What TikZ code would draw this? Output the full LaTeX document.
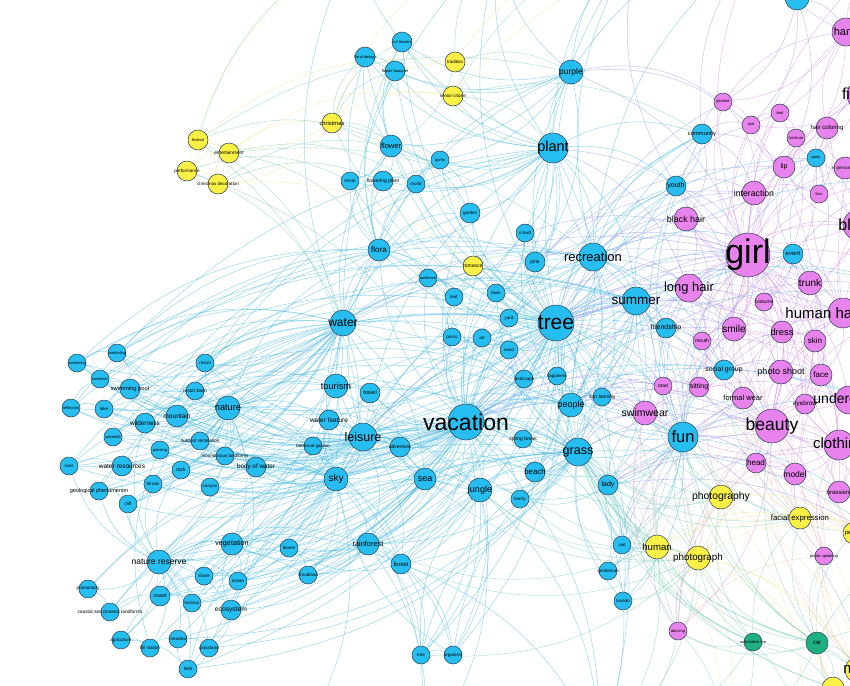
\documentclass[tikz,border=0pt]{standalone}
\usepackage{fontspec}
\setmainfont{Liberation Sans}
\pgfdeclarelayer{bgl}
\pgfdeclarelayer{edges}
\pgfdeclarelayer{labels}
\pgfsetlayers{bgl,edges,main,labels}
\definecolor{nb}{RGB}{38,190,240}
\definecolor{np}{RGB}{232,130,236}
\definecolor{ny}{RGB}{250,240,70}
\definecolor{ng}{RGB}{30,175,130}
\definecolor{cb}{RGB}{70,185,225}
\definecolor{cl}{RGB}{150,150,235}
\definecolor{cp}{RGB}{215,140,230}
\definecolor{cy}{RGB}{238,232,140}
\definecolor{cg}{RGB}{120,205,185}
\definecolor{co}{RGB}{240,195,190}
\definecolor{nstroke}{RGB}{40,60,80}
\tikzset{
 nd/.style={circle, draw=nstroke, line width=.5pt, inner sep=0pt},
 B/.style={nd, fill=nb}, P/.style={nd, fill=np}, Y/.style={nd, fill=ny}, G/.style={nd, fill=ng},
 lab/.style={inner sep=0pt, text=black},
 e/.style={line width=.5pt, opacity=.55, bend left=22},
 eb/.style={e, draw=cb}, el/.style={e, draw=cl}, ep/.style={e, draw=cp},
 ey/.style={e, draw=cy}, eg/.style={e, draw=cg}, eo/.style={e, draw=co}
}
\newcommand\N[7]{\node[#5, minimum size=2*#4pt] (#1) at (#2,#3) {};
 \begin{pgfonlayer}{labels}\node[lab, font=\fontsize{#6}{#6}\selectfont] (#1-t) at (#2,#3) {#7};\end{pgfonlayer}}
\newcommand\NL[9]{\node[#5, minimum size=2*#4pt] (#1) at (#2,#3) {};
 \begin{pgfonlayer}{labels}\node[lab, font=\fontsize{#6}{#6}\selectfont] (#1-t) at (#8,#9) {#7};\end{pgfonlayer}}
\newcommand\EE[3]{\foreach \tg in {#3}{\draw[#1] (#2) to (\tg);}}
\begin{document}
\begin{tikzpicture}[x=1pt,y=-1pt]
\begin{pgfonlayer}{bgl}
\fill[white] (0,0) rectangle (850,685);
\end{pgfonlayer}
\useasboundingbox (0,0) rectangle (850,685);
% off-canvas ends
\coordinate (oT1) at (640,-60); \coordinate (oT2) at (500,-60); \coordinate (oT3) at (760,-60);
\coordinate (oT4) at (350,-50); \coordinate (oT5) at (880,-40);
\coordinate (oR1) at (910,60); \coordinate (oR2) at (930,180); \coordinate (oR3) at (940,300);
\coordinate (oR4) at (930,420); \coordinate (oR5) at (910,560); \coordinate (oR6) at (880,720);
\coordinate (oB1) at (600,750); \coordinate (oB2) at (420,760); \coordinate (oB3) at (720,740);
\coordinate (oB4) at (300,740); \coordinate (oB5) at (800,760); \coordinate (oR7) at (920,640);
% blue nodes
\N{cutflowers}{402}{42}{10}{B}{4}{cut flowers}
\N{floral}{365}{57}{10}{B}{4}{floral design}
\N{bouquet}{395}{71}{10}{B}{4}{flower bouquet}
\N{flower}{391}{146}{11}{B}{7.5}{flower}
\N{shrub}{350}{181}{9}{B}{4.5}{shrub}
\N{floweringplant}{383}{181}{10}{B}{5}{flowering plant}
\N{murid}{416}{184}{9}{B}{4.5}{murid}
\N{garlic}{440}{160}{9}{B}{4}{garlic}
\N{garden}{470}{213}{10}{B}{4.5}{garden}
\N{purple}{571}{72}{12}{B}{8.5}{purple}
\N{plant}{553}{148}{15}{B}{14.5}{plant}
\N{crowd}{525}{233}{9}{B}{4.5}{crowd}
\N{pink}{535}{262}{10}{B}{5}{pink}
\N{recreation}{593}{257}{14}{B}{13}{recreation}
\N{flora}{379}{250}{11}{B}{8}{flora}
\N{audience}{428}{278}{9}{B}{4}{audience}
\N{leaf}{454}{297}{9}{B}{4.5}{leaf}
\N{lawn}{496}{293}{9}{B}{4.5}{lawn}
\N{yard}{509}{318}{9}{B}{4.5}{yard}
\N{tree}{556}{323}{18}{B}{21}{tree}
\N{picnic}{452}{337}{9}{B}{4.5}{picnic}
\N{art}{482}{338}{9}{B}{4.5}{art}
\N{sand}{509}{350}{9}{B}{4.5}{sand}
\N{summer}{636}{301}{14}{B}{13.5}{summer}
\N{landscape}{524}{379}{9}{B}{4.5}{landscape}
\N{happiness}{557}{376}{9}{B}{4.5}{happiness}
\N{people}{571}{405}{12}{B}{9}{people}
\N{suntanning}{602}{397}{9}{B}{5}{sun tanning}
\N{vacation}{466}{422}{18}{B}{23}{vacation}
\N{springbreak}{523}{439}{9}{B}{5}{spring break}
\N{grass}{578}{452}{14}{B}{12.5}{grass}
\N{water}{343}{323}{13}{B}{12}{water}
\N{tourism}{336}{386}{12}{B}{9.2}{tourism}
\N{travel}{370}{393}{10}{B}{5.5}{travel}
\N{waterfeature}{329}{420}{10}{B}{6.5}{water feature}
\N{leisure}{363}{437}{14}{B}{12.5}{leisure}
\N{botanical}{313}{446}{9}{B}{4.5}{botanical garden}
\N{adventure}{400}{447}{10}{B}{5}{adventure}
\N{nature}{228}{408}{12}{B}{9.2}{nature}
\N{sky}{336}{479}{12}{B}{10}{sky}
\N{sea}{425}{479}{11}{B}{9}{sea}
\N{jungle}{480}{490}{12}{B}{9}{jungle}
\N{beach}{535}{472}{10}{B}{7.8}{beach}
\N{family}{520}{499}{9}{B}{4.5}{family}
\N{lady}{608}{485}{10}{B}{7}{lady}
\N{swimming}{77}{363}{9}{B}{4}{swimming}
\N{snorkeling}{117}{353}{9}{B}{4}{snorkeling}
\N{swimmer}{100}{379}{9}{B}{4}{swimmer}
\N{swimmingpool}{130}{389}{10}{B}{5.8}{swimming pool}
\N{reflection}{71}{408}{9}{B}{4}{reflection}
\N{lake}{104}{409}{9}{B}{4.5}{lake}
\N{wilderness}{145}{423}{10}{B}{6.3}{wilderness}
\N{mountain}{177}{416}{11}{B}{6.6}{mountain}
\N{resort}{205}{363}{9}{B}{4.5}{resort}
\N{resorttown}{195}{391}{9}{B}{4.8}{resort town}
\N{waterfall}{113}{437}{9}{B}{4}{waterfall}
\N{painting}{160}{450}{9}{B}{4}{painting}
\N{outdoor}{200}{441}{9}{B}{4.8}{outdoor recreation}
\N{mountainous}{225}{456}{9}{B}{4.5}{mountainous landforms}
\N{bodywater}{256}{467}{10}{B}{6.3}{body of water}
\N{river}{69}{466}{9}{B}{4.5}{river}
\N{wresources}{122}{466}{10}{B}{6.5}{water resources}
\N{rock}{181}{470}{9}{B}{5}{rock}
\N{terrain}{153}{484}{9}{B}{4.5}{terrain}
\N{geological}{99}{491}{9}{B}{5.5}{geological phenomenon}
\N{cliff}{128}{504}{9}{B}{4.5}{cliff}
\N{canyon}{210}{487}{9}{B}{4.5}{canyon}
\N{naturereserve}{159}{562}{12}{B}{8.5}{nature reserve}
\N{vegetation}{232}{544}{11}{B}{7.2}{vegetation}
\N{biome}{289}{548}{9}{B}{4.5}{biome}
\N{shrubland}{308}{575}{9}{B}{4.5}{shrubland}
\N{rainforest}{368}{544}{11}{B}{7.4}{rainforest}
\N{forest}{401}{564}{10}{B}{6}{forest}
\N{shore}{204}{576}{9}{B}{4.5}{shore}
\N{ocean}{238}{581}{9}{B}{4.5}{ocean}
\N{coast}{160}{596}{10}{B}{5.5}{coast}
\N{horizon}{192}{603}{9}{B}{4.5}{horizon}
\N{promontory}{88}{589}{9}{B}{4.5}{promontory}
\N{coastal}{110}{612}{9}{B}{4.8}{coastal and oceanic landforms}
\N{ecosystem}{231}{610}{10}{B}{6.7}{ecosystem}
\N{agriculture}{121}{640}{9}{B}{4.5}{agriculture}
\N{hillstation}{150}{648}{9}{B}{4.5}{hill station}
\N{meadow}{178}{639}{9}{B}{4.5}{meadow}
\N{grassland}{209}{648}{9}{B}{4.5}{grassland}
\N{field}{188}{669}{9}{B}{4.5}{field}
\N{btree}{421}{655}{9}{B}{4.5}{tree}
\N{organism}{453}{655}{9}{B}{4.5}{organism}
\N{suit}{622}{545}{9}{B}{4.5}{suit}
\N{gentleman}{608}{571}{9}{B}{4.5}{gentleman}
\N{tuxedo}{623}{601}{9}{B}{4.5}{tuxedo}
\N{community}{702}{134}{10}{B}{5.8}{community}
\N{youth}{676}{186}{10}{B}{7}{youth}
\N{party}{816}{158}{9}{B}{4}{party}
\N{event}{793}{254}{10}{B}{6}{event}
\N{friendship}{666}{328}{10}{B}{7}{friendship}
\N{socialgroup}{724}{370}{10}{B}{6.9}{social group}
\N{fun}{683}{437}{15}{B}{16.5}{fun}
\N{topblue}{797}{-2}{12}{B}{4}{}
% pink nodes
\N{hand}{846}{32}{14}{P}{11}{hand}
\N{finger}{862}{95}{15}{P}{16}{finger}
\N{gesture}{723}{102}{9}{P}{4}{gesture}
\N{eye}{751}{125}{9}{P}{4}{eye}
\N{bed}{780}{113}{9}{P}{4}{bed}
\N{haircolor}{827}{128}{11}{P}{6}{hair coloring}
\N{furniture}{796}{138}{9}{P}{4}{furniture}
\N{lip}{784}{167}{11}{P}{7}{lip}
\N{tvp}{845}{168}{11}{P}{4.5}{tv personality}
\N{interaction}{754}{193}{12}{P}{8.7}{interaction}
\N{kiss}{819}{194}{9}{P}{4}{kiss}
\N{blackhair}{686}{219}{12}{P}{8.9}{black hair}
\N{blond}{858}{225}{15}{P}{16}{blond}
\N{girl}{748}{255}{22}{P}{34}{girl}
\N{longhair}{689}{288}{14}{P}{13}{long hair}
\N{trunk}{810}{283}{12}{P}{10}{trunk}
\NL{humanhair}{843}{313}{15}{P}{15}{human hair}{823}{313}
\N{costume}{764}{302}{9}{P}{5}{costume}
\N{smile}{734}{329}{12}{P}{10}{smile}
\N{dress}{782}{332}{11}{P}{9.4}{dress}
\N{mouth}{702}{341}{9}{P}{5}{mouth}
\N{skin}{815}{341}{11}{P}{8}{skin}
\N{photoshoot}{781}{372}{12}{P}{9}{photo shoot}
\N{face}{821}{375}{11}{P}{8}{face}
\N{road}{663}{386}{9}{P}{5}{road}
\N{sitting}{699}{387}{10}{P}{7}{sitting}
\N{formalwear}{743}{398}{11}{P}{7.5}{formal wear}
\N{eyebrow}{805}{404}{10}{P}{6.3}{eyebrow}
\NL{underg}{849}{400}{14}{P}{14}{undergarment}{857}{400}
\N{swimwear}{645}{413}{12}{P}{10.5}{swimwear}
\N{beauty}{772}{426}{17}{P}{17.5}{beauty}
\N{clothing}{839}{445}{15}{P}{15}{clothing}
\N{head}{756}{463}{10}{P}{8}{head}
\N{model}{795}{474}{11}{P}{8.5}{model}
\N{brassiere}{839}{492}{11}{P}{6}{brassiere}
\N{publicsp}{824}{556}{9}{P}{4}{public speaking}
\N{dancing}{678}{631}{9}{P}{4}{dancing}
% yellow nodes
\N{festival}{198}{140}{10}{Y}{4}{festival}
\N{entertain}{229}{153}{10}{Y}{4.8}{entertainment}
\N{performance}{187}{171}{10}{Y}{4.5}{performance}
\N{xmasdeco}{218}{184}{10}{Y}{4.5}{christmas decoration}
\N{xmas}{332}{123}{10}{Y}{5.8}{christmas}
\N{tradition}{455}{62}{10}{Y}{4.5}{tradition}
\N{senior}{453}{96}{10}{Y}{4.5}{senior citizen}
\N{romantic}{473}{266}{10}{Y}{5}{romance}
\N{photography}{721}{497}{12}{Y}{10.4}{photography}
\N{facial}{800}{518}{11}{Y}{7.8}{facial expression}
\N{human}{657}{547}{12}{Y}{9.6}{human}
\N{photograph}{698}{558}{12}{Y}{9.8}{photograph}
\N{person}{854}{533}{11}{Y}{6}{person}
\N{ybot}{833}{688}{11}{Y}{4}{}
\N{man}{858}{670}{13}{Y}{15}{man}
% green nodes
\N{autotire}{753}{642}{9}{G}{4}{automotive tire}
\N{car}{817}{643}{11}{G}{6}{car}
\begin{pgfonlayer}{edges}
\EE{eb}{vacation}{tree,leisure,water,tourism,travel,sea,beach,jungle,sky,grass,recreation,summer,people,nature,mountain,resort,resorttown,swimmingpool,lake,adventure,springbreak,family,sand,picnic,landscape,happiness,plant,flora,rainforest,forest,outdoor,wilderness,vegetation,horizon,coast,ocean,shore,river,waterfall,suntanning,lady,bodywater,botanical,waterfeature,art,lawn,yard,leaf,audience,crowd,pink,garden,canyon,rock,naturereserve,ecosystem,shrubland,biome,btree,organism,suit,fun,youth,friendship,community,snorkeling,swimming,swimmer,reflection,painting,mountainous,oR3,oR4,oB1}
\EE{el}{vacation}{girl,swimwear,beauty,longhair,smile,road,sitting}
\EE{eg}{vacation}{romantic,photography,human,photograph}
\EE{eb}{tree}{plant,flora,garden,grass,leaf,lawn,yard,sky,water,nature,forest,rainforest,jungle,vegetation,shrub,flower,purple,pink,crowd,recreation,summer,fun,people,landscape,picnic,art,sand,meadow,field,grassland,btree,organism,ecosystem,biome,community,youth,happiness,suntanning,springbreak,beach,family,lady,floweringplant,garlic,murid,audience,event,party,friendship,socialgroup,leisure,tourism,cutflowers,floral,bouquet,oT1,oT2,oR2,oR3,oB1}
\EE{el}{tree}{girl,longhair,beauty,smile,blackhair,swimwear,trunk,skin,interaction,costume,dress,humanhair,road,mouth,gesture}
\EE{eg}{tree}{romantic,photography,human,photograph,facial,xmas}
\EE{eb}{leisure}{water,tourism,travel,waterfeature,botanical,adventure,sky,sea,nature,mountain,bodywater,swimmingpool,resort,recreation,summer,fun,people,lake,outdoor,canyon,rock,mountainous,jungle,grass,beach,springbreak,wilderness,resorttown,painting,snorkeling,swimming,swimmer,flora,plant,rainforest,vegetation,forest,oR4}
\EE{eb}{water}{nature,lake,river,reflection,swimming,snorkeling,swimmer,swimmingpool,waterfall,wresources,bodywater,sea,sky,flora,plant,flower,resort,mountain,wilderness,ocean,coast,shore,geological,cliff,rock,terrain,grass,summer,recreation,fun,landscape,leaf,garden,oT4,oT2,purple}
\EE{eb}{nature}{mountain,wilderness,rock,terrain,cliff,canyon,geological,river,lake,waterfall,sky,vegetation,naturereserve,painting,outdoor,mountainous,wresources,reflection,swimming,snorkeling,resort,resorttown,flora,grass,jungle,sea,ecosystem,landscape,forest,tourism,waterfeature,botanical}
\EE{eb}{sky}{sea,ocean,horizon,coast,shore,rainforest,vegetation,ecosystem,forest,shrubland,biome,grass,jungle,naturereserve,bodywater,mountainous,canyon,rock,terrain,cliff,wresources,tourism,travel,adventure,waterfeature,botanical,beach,people,summer,recreation,flora,oB4,oB2}
\EE{eb}{naturereserve}{vegetation,coast,shore,horizon,promontory,coastal,agriculture,hillstation,meadow,grassland,field,ecosystem,ocean,wilderness,terrain,rock,cliff,geological,river,wresources,rainforest,forest,biome,shrubland}
\EE{eb}{plant}{flower,flora,garden,purple,shrub,floweringplant,garlic,murid,pink,leaf,grass,cutflowers,floral,bouquet,crowd,lawn,yard,recreation,summer,community,youth,oT1,oT2,oT4}
\EE{eg}{plant}{tradition,senior,xmas}
\EE{eb}{flora}{flower,shrub,floweringplant,garden,garlic,murid,bouquet,floral,cutflowers,leaf,audience,picnic,grass,purple,pink}
\EE{eb}{grass}{lawn,yard,sand,people,springbreak,beach,family,lady,jungle,sea,fun,summer,recreation,suntanning,happiness,meadow,field,grassland,suit,gentleman,tuxedo,forest,rainforest,oB1,oR5}
\EE{eb}{recreation}{summer,fun,people,crowd,pink,purple,happiness,suntanning,youth,community,friendship,socialgroup,event,party,lawn,audience,oT1,oT3}
\EE{eb}{summer}{fun,people,happiness,suntanning,youth,friendship,beach,springbreak,sand,swimmingpool,lady,oR3}
\EE{eb}{fun}{people,friendship,socialgroup,happiness,youth,community,event,party,lady,family,springbreak,beach,suit,gentleman,tuxedo,oR4,oR5}
\EE{eb}{people}{crowd,audience,family,lady,happiness,socialgroup,friendship,community,youth,event}
\EE{eb}{jungle}{rainforest,forest,sea,beach,family,adventure,btree,organism,biome,vegetation,shrubland,oB1,oB2}
\EE{eb}{sea}{beach,ocean,coast,shore,horizon,bodywater,adventure,travel,family}
\EE{eb}{purple}{pink,flower,cutflowers,floral,bouquet,garlic,oT1,oT3,oT2}
\EE{eb}{flower}{cutflowers,floral,bouquet,shrub,floweringplant,murid,garlic,garden}
\EE{eb}{rainforest}{forest,btree,organism,biome,shrubland,vegetation,ecosystem,oB2}
\EE{eb}{forest}{btree,organism,biome,oB1}
\foreach \a/\b in {swimming/snorkeling,swimming/swimmer,swimmer/swimmingpool,snorkeling/swimmingpool,reflection/lake,lake/swimmingpool,lake/wilderness,wilderness/mountain,mountain/resort,resort/resorttown,resorttown/mountain,waterfall/wilderness,painting/mountain,outdoor/mountain,mountainous/outdoor,bodywater/mountainous,river/wresources,wresources/rock,rock/terrain,terrain/cliff,geological/cliff,geological/wresources,canyon/rock,painting/wilderness,reflection/swimmer,coast/shore,coast/horizon,shore/ocean,ocean/horizon,promontory/coastal,coastal/coast,agriculture/hillstation,hillstation/meadow,meadow/grassland,grassland/field,field/meadow,ecosystem/vegetation,ecosystem/grassland,vegetation/shore,biome/shrubland,biome/vegetation,shrubland/rainforest,btree/organism,agriculture/field,vegetation/ocean,floral/bouquet,cutflowers/bouquet,shrub/floweringplant,floweringplant/murid,murid/garlic,garlic/garden,garden/leaf,pink/crowd,crowd/lawn,lawn/yard,yard/art,art/picnic,picnic/leaf,audience/leaf,sand/landscape,landscape/happiness,happiness/people,people/suntanning,tourism/travel,travel/adventure,waterfeature/botanical,suit/gentleman,gentleman/tuxedo,community/youth,friendship/socialgroup,event/party,lady/family,beach/family,springbreak/beach,swimming/summer,snorkeling/summer,swimmingpool/summer,resort/recreation,resorttown/tourism,mountain/tree,wilderness/tree,lake/tree,reflection/water,river/sky,waterfall/tree,swimmer/recreation,snorkeling/recreation,resort/summer,painting/art,outdoor/recreation,geological/sky,cliff/sky,terrain/sky,canyon/sky,rock/sky,wresources/water,lake/grass,swimmingpool/fun,mountain/people,naturereserve/tree,vegetation/tree,coast/vacation,agriculture/grass,meadow/grass,field/grass,grassland/tree,hillstation/mountain,promontory/sky,coastal/sky,ecosystem/tree,biome/tree,shrubland/grass,swimming/flora,snorkeling/water,reflection/plant,river/water,lake/flora,swimmer/tree,resort/water,wilderness/flora,mountain/plant,waterfall/water,geological/water,terrain/water,swimming/water,snorkeling/flora,resort/plant,river/tourism,cliff/leisure,promontory/vacation,agriculture/sky,hillstation/grass,field/sky,coastal/vacation,horizon/sea,naturereserve/grass,coast/sky,shore/sea,organism/grass,btree/grass,forest/grass,rainforest/grass,btree/jungle,organism/sky,gentleman/grass,tuxedo/grass,suit/lady,suit/fun}{\draw[eb] (\a) to (\b);}
\EE{ep}{girl}{longhair,humanhair,beauty,smile,dress,skin,face,photoshoot,lip,eye,blackhair,interaction,blond,hand,finger,costume,mouth,model,formalwear,head,clothing,trunk,underg,swimwear,sitting,road,eyebrow,gesture,bed,haircolor,furniture,kiss,tvp,brassiere,oR1,oR2,oR3,oR4,oT3,oT5}
\EE{ep}{beauty}{smile,dress,skin,face,photoshoot,formalwear,eyebrow,head,model,clothing,underg,brassiere,swimwear,sitting,humanhair,longhair,lip,eye,publicsp,dancing,oR2,oR3,oR4,oR5}
\EE{ep}{humanhair}{longhair,blackhair,blond,haircolor,trunk,costume,dress,skin,face,smile,oR1,oR2}
\EE{ep}{longhair}{blackhair,blond,smile,mouth,sitting,dress}
\EE{ep}{clothing}{dress,formalwear,model,head,brassiere,swimwear,costume,skin,oR5}
\EE{ep}{hand}{finger,gesture,lip,eye,tvp,oT3,oR1}
\EE{ep}{blond}{haircolor,blackhair,trunk,lip,tvp,oR1}
\foreach \a/\b in {lip/eye,lip/mouth,eye/eyebrow,face/eyebrow,face/skin,skin/dress,dress/clothing,clothing/underg,underg/brassiere,model/photoshoot,photoshoot/formalwear,formalwear/dress,hand/finger,gesture/hand,gesture/interaction,interaction/kiss,kiss/lip,bed/furniture,furniture/costume,trunk/costume,tvp/haircolor,mouth/smile,smile/face,head/face,sitting/road,road/swimwear,swimwear/underg,publicsp/clothing,dancing/beauty,publicsp/face,hand/oT5,finger/oR1,blond/oR2,clothing/oR4,underg/oR3,interaction/blackhair,eye/bed,haircolor/hand,model/head,brassiere/clothing,smile/photoshoot,dress/photoshoot,face/photoshoot,eyebrow/skin,finger/eye,finger/lip,gesture/eye,interaction/lip,interaction/smile,blackhair/smile,blackhair/mouth,costume/dress,trunk/skin,trunk/dress,skin/face,smile/dress,mouth/face,sitting/formalwear,road/sitting,head/model,head/beauty,publicsp/model,dancing/head,dancing/swimwear,eyebrow/face,underg/face,brassiere/model,haircolor/kiss,furniture/lip,bed/lip,tvp/kiss}{\draw[ep] (\a) to (\b);}
\foreach \a/\b in {fun/girl,fun/beauty,fun/smile,fun/swimwear,fun/longhair,fun/sitting,fun/road,friendship/smile,friendship/longhair,friendship/girl,socialgroup/smile,socialgroup/photoshoot,socialgroup/girl,socialgroup/formalwear,socialgroup/sitting,socialgroup/mouth,event/girl,event/trunk,event/costume,event/dress,party/lip,party/kiss,party/furniture,party/haircolor,party/costume,community/gesture,community/interaction,community/blackhair,community/eye,youth/blackhair,youth/interaction,youth/girl,youth/longhair,youth/smile,summer/swimwear,summer/girl,summer/longhair,summer/road,people/swimwear,people/road,people/sitting,lady/beauty,lady/head,lady/swimwear,lady/model,suit/formalwear,suit/clothing,gentleman/formalwear,tuxedo/formalwear,recreation/girl,recreation/longhair,recreation/blackhair,recreation/interaction,topblue/hand,topblue/gesture,topblue/eye,topblue/lip,event/humanhair,event/skin,friendship/mouth,grass/swimwear,grass/road,suntanning/swimwear,suntanning/road,beach/swimwear,pink/interaction,purple/gesture,purple/eye,topblue/oT3,topblue/oT1,party/oR1,event/oR2,community/oT3,youth/oT1,socialgroup/oR3,friendship/oR3,lady/oR5,fun/oR6,water/girl,leisure/girl,sky/beauty,nature/girl,people/girl,people/beauty,grass/beauty,grass/girl,summer/smile,summer/beauty,recreation/smile,purple/girl,plant/girl,plant/longhair,pink/girl,pink/lip,crowd/girl,fun/head,fun/model,fun/clothing,socialgroup/dress,socialgroup/face,friendship/sitting,lady/clothing,lady/formalwear,youth/eye,community/lip,event/lip,event/face,party/trunk,party/blond}{\draw[el] (\a) to (\b);}
\foreach \a/\b in {festival/entertain,festival/performance,performance/xmasdeco,entertain/xmasdeco,entertain/xmas,xmas/xmasdeco,xmas/tradition,xmas/senior,tradition/senior,xmas/festival,performance/entertain,photography/photograph,photography/human,photography/facial,photograph/human,facial/person,human/person,photography/person,photograph/man,human/ybot,person/man,photography/oR6,facial/oR5,photograph/oB3,festival/tradition,entertain/senior,performance/oT4,xmasdeco/romantic,festival/xmasdeco,tradition/oT1,senior/oT3,xmas/oT2,human/facial,photograph/facial,photograph/person,human/oB3,photography/oB5,facial/oB5,human/man,photograph/ybot,person/oR7,facial/man}{\draw[ey] (\a) to (\b);}
\foreach \a/\b in {xmas/flower,xmas/floral,xmas/bouquet,xmas/cutflowers,festival/flower,performance/shrub,xmasdeco/floweringplant,entertain/murid,tradition/purple,senior/plant,senior/community,tradition/flower,romantic/pink,romantic/tree,photography/fun,human/suit,human/gentleman,human/tuxedo,photograph/tuxedo,photograph/lady,facial/fun,human/people,performance/vacation,festival/leisure,entertain/recreation,festival/water,entertain/flora,xmasdeco/flower,performance/water,festival/purple,xmas/garden,tradition/oT2,senior/oT1,festival/oT4,photography/grass,human/grass,photograph/jungle,human/oB1,photograph/oB1,autotire/oB1,car/oB3,car/oR6,car/oR5,autotire/oB3,dancing/oB1,romantic/audience,romantic/leaf,romantic/lawn,human/fun,human/lady,human/vacation,photograph/grass,photograph/sea,photography/people,photography/summer,photography/lady,facial/lady,facial/socialgroup,human/jungle,photograph/forest,human/rainforest,photograph/btree,photography/beach,human/family,photograph/fun,human/tree,facial/grass,person/fun,man/fun,ybot/grass,ybot/lady,ybot/oB1}{\draw[eg] (\a) to (\b);}
\foreach \a/\b in {photography/girl,photography/beauty,photography/model,facial/beauty,facial/face,facial/smile,human/longhair,photograph/head,person/model,person/brassiere,facial/publicsp,photograph/dancing,human/swimwear,man/publicsp,photography/head,photography/smile,photography/formalwear,photography/clothing,facial/head,facial/eyebrow,facial/model,facial/girl,human/beauty,human/girl,human/smile,photograph/beauty,photograph/model,photograph/girl,person/clothing,person/face,person/beauty,man/clothing,man/beauty,ybot/publicsp,dancing/publicsp,dancing/photography,person/girl,man/girl}{\draw[eo] (\a) to (\b);}
\foreach \a/\b in {car/autotire,car/person,car/man,autotire/photograph,car/publicsp,car/dancing,car/fun,autotire/human,car/photography,autotire/dancing,car/facial,car/human,car/photograph,autotire/photography,autotire/facial,car/ybot,autotire/ybot,car/oR7,autotire/oB5,car/oB5,car/beauty,autotire/fun,car/grass,autotire/grass,car/lady,autotire/lady,dancing/fun,dancing/human,dancing/photograph,dancing/oB3}{\draw[eg] (\a) to (\b);}
\end{pgfonlayer}
\end{tikzpicture}
\end{document}
